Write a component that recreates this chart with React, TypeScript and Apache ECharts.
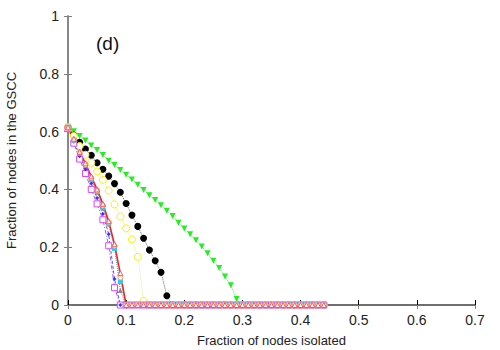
import React, { useEffect, useRef } from "react";
import * as echarts from "echarts";

const xValues = [
  0, 0.01, 0.02, 0.03, 0.04, 0.05, 0.06, 0.07, 0.08, 0.09,
  0.1, 0.11, 0.12, 0.13, 0.14, 0.15, 0.16, 0.17, 0.18, 0.19,
  0.2, 0.21, 0.22, 0.23, 0.24, 0.25, 0.26, 0.27, 0.28, 0.29,
  0.3, 0.31, 0.32, 0.33, 0.34, 0.35, 0.36, 0.37, 0.38, 0.39,
  0.4, 0.41, 0.42, 0.43, 0.44,
];

const greenY = [
  0.617, 0.601, 0.585, 0.569, 0.552, 0.536, 0.519, 0.499, 0.484, 0.467,
  0.451, 0.434, 0.416, 0.398, 0.38, 0.363, 0.345, 0.326, 0.308, 0.285,
  0.265, 0.245, 0.224, 0.202, 0.179, 0.153, 0.128, 0.099, 0.068, 0.021,
  0, 0, 0, 0, 0, 0, 0, 0, 0, 0,
  0, 0, 0, 0, 0,
];

const blackY = [
  0.615, 0.588, 0.563, 0.54, 0.518, 0.492, 0.47, 0.446, 0.42, 0.39,
  0.351, 0.311, 0.272, 0.231, 0.19, 0.153, 0.113, 0.032, 0, 0,
  0, 0, 0, 0, 0, 0, 0, 0, 0, 0,
  0, 0, 0, 0, 0, 0, 0, 0, 0, 0,
  0, 0, 0, 0, 0,
];

const yellowY = [
  0.615, 0.585, 0.55, 0.52, 0.492, 0.462, 0.433, 0.396, 0.348, 0.306,
  0.265, 0.227, 0.167, 0.014, 0, 0, 0, 0, 0, 0,
  0, 0, 0, 0, 0, 0, 0, 0, 0, 0,
  0, 0, 0, 0, 0, 0, 0, 0, 0, 0,
  0, 0, 0, 0, 0,
];

const cyanY = [
  0.615, 0.57, 0.525, 0.484, 0.435, 0.394, 0.338, 0.283, 0.196, 0.081,
  0, 0, 0, 0, 0, 0, 0, 0, 0, 0,
  0, 0, 0, 0, 0, 0, 0, 0, 0, 0,
  0, 0, 0, 0, 0, 0, 0, 0, 0, 0,
  0, 0, 0, 0, 0,
];

const magentaY = [
  0.61, 0.56, 0.505, 0.455, 0.4, 0.35, 0.295, 0.205, 0.06, 0,
  0, 0, 0, 0, 0, 0, 0, 0, 0, 0,
  0, 0, 0, 0, 0, 0, 0, 0, 0, 0,
  0, 0, 0, 0, 0, 0, 0, 0, 0, 0,
  0, 0, 0, 0, 0,
];

const blueY = [
  0.61, 0.565, 0.515, 0.47, 0.42, 0.37, 0.315, 0.245, 0.09, 0,
  0, 0, 0, 0, 0, 0, 0, 0, 0, 0,
  0, 0, 0, 0, 0, 0, 0, 0, 0, 0,
  0, 0, 0, 0, 0, 0, 0, 0, 0, 0,
  0, 0, 0, 0, 0,
];

const grayY = [
  0.615, 0.57, 0.525, 0.48, 0.435, 0.39, 0.335, 0.28, 0.2, 0.05,
  0, 0, 0, 0, 0, 0, 0, 0, 0, 0,
  0, 0, 0, 0, 0, 0, 0, 0, 0, 0,
  0, 0, 0, 0, 0, 0, 0, 0, 0, 0,
  0, 0, 0, 0, 0,
];

const orangeY = [
  0.612, 0.572, 0.528, 0.486, 0.44, 0.396, 0.344, 0.286, 0.205, 0.095,
  0, 0, 0, 0, 0, 0, 0, 0, 0, 0,
  0, 0, 0, 0, 0, 0, 0, 0, 0, 0,
  0, 0, 0, 0, 0, 0, 0, 0, 0, 0,
  0, 0, 0, 0, 0,
];

const redY = [
  0.615, 0.575, 0.53, 0.49, 0.445, 0.4, 0.35, 0.29, 0.21, 0.11,
  0, 0, 0, 0, 0, 0, 0, 0, 0, 0,
  0, 0, 0, 0, 0, 0, 0, 0, 0, 0,
  0, 0, 0, 0, 0, 0, 0, 0, 0, 0,
  0, 0, 0, 0, 0,
];

const xTicks = ["0", "0.1", "0.2", "0.3", "0.4", "0.5", "0.6", "0.7"];
const yTicks = ["0", "0.2", "0.4", "0.6", "0.8", "1"];

const pairs = (ys: number[]) => xValues.map((x, i) => [x, ys[i]]);

export default function App() {
  const ref = useRef<HTMLDivElement>(null);
  useEffect(() => {
    if (!ref.current) return;
    const chart = echarts.init(ref.current, null, { renderer: "svg" });
    const font = "Liberation Sans, Arial, sans-serif";
    const mk = (
      name: string,
      ys: number[],
      color: string,
      lineColor: string,
      symbol: string,
      size: number,
      hollow: boolean,
      lineType: any,
      width = 1,
      rotate = 0
    ) => ({
      name,
      type: "line",
      data: pairs(ys),
      symbol,
      symbolSize: size,
      symbolRotate: rotate,
      showAllSymbol: true,
      lineStyle: { color: lineColor, width, type: lineType },
      itemStyle: hollow
        ? { color: "#fff", borderColor: color, borderWidth: 1 }
        : { color, borderColor: color, borderWidth: 0 },
      z: 3,
    });
    chart.setOption({
      animation: false,
      backgroundColor: "#fff",
      textStyle: { fontFamily: font },
      grid: {
        left: 68,
        top: 16,
        right: 25,
        bottom: 45,
        containLabel: false,
        outerBoundsMode: "none",
      },
      xAxis: [
        {
          type: "value",
          min: 0,
          max: 0.7,
          interval: 0.1,
          name: "Fraction of nodes isolated",
          nameLocation: "middle",
          nameGap: 29,
          nameTextStyle: { fontSize: 13, color: "#222", fontFamily: font },
          axisLine: { onZero: false, lineStyle: { color: "#000", width: 1.5 } },
          axisTick: { inside: true, length: 5, lineStyle: { color: "#000" } },
          axisLabel: {
            fontSize: 14,
            color: "#222",
            margin: 8,
            fontFamily: font,
            formatter: (v: number) => xTicks[Math.round(v * 10)] ?? "",
          },
          splitLine: { show: false },
        },
        {
          type: "value",
          position: "top",
          min: 0,
          max: 0.7,
          interval: 0.1,
          axisLine: { show: true, lineStyle: { color: "#808080", width: 1.5 } },
          axisTick: { inside: true, length: 4, lineStyle: { color: "#808080" } },
          axisLabel: { show: false },
          splitLine: { show: false },
        },
      ],
      yAxis: [
        {
          type: "value",
          min: 0,
          max: 1,
          interval: 0.2,
          name: "Fraction of nodes in the GSCC",
          nameLocation: "middle",
          nameGap: 50,
          nameTextStyle: { fontSize: 13, color: "#222", fontFamily: font },
          axisLine: { show: true, lineStyle: { color: "#808080", width: 1.5 } },
          axisTick: { inside: true, length: 4, lineStyle: { color: "#808080" } },
          axisLabel: {
            fontSize: 14,
            color: "#222",
            margin: 9,
            fontFamily: font,
            formatter: (v: number) => yTicks[Math.round(v * 5)] ?? "",
          },
          splitLine: { show: false },
        },
        {
          type: "value",
          position: "right",
          min: 0,
          max: 1,
          interval: 0.2,
          axisLine: { show: true, lineStyle: { color: "#808080", width: 1.5 } },
          axisTick: { inside: true, length: 4, lineStyle: { color: "#808080" } },
          axisLabel: { show: false },
          splitLine: { show: false },
        },
      ],
      graphic: [
        {
          type: "text",
          left: 96,
          top: 34,
          style: { text: "(d)", fontSize: 19, fill: "#111", fontFamily: font },
        },
      ],
      series: [
        mk("green", greenY, "#22ee22", "#55dd55", "triangle", 6, false, "dotted", 1, 180),
        mk("black", blackY, "#000", "#666", "circle", 7, false, "dotted"),
        mk("yellow", yellowY, "#ffee00", "#ffee44", "circle", 7, true, "dotted"),
        mk("gray", grayY, "#888", "#888", "triangle", 5, false, "dotted"),
        mk("magenta", magentaY, "#dd44ff", "#aa55ff", "rect", 6, true, [4, 2, 1, 2]),
        mk("blue", blueY, "#3333ff", "#5555ff", "diamond", 4, false, [3, 2]),
        mk("cyan", cyanY, "#22ccff", "#66bbee", "rect", 5, false, "dotted"),
        mk("orange", orangeY, "#ff9966", "#ff9966", "circle", 5, true, "dotted"),
        mk("red", redY, "#ff5555", "#ee2222", "triangle", 5, true, "solid", 1.5),
      ],
    });
    return () => chart.dispose();
  }, []);
  return (
    <div
      ref={ref}
      style={{ width: 500, height: 350, position: "fixed", left: 0, top: 0 }}
    />
  );
}
